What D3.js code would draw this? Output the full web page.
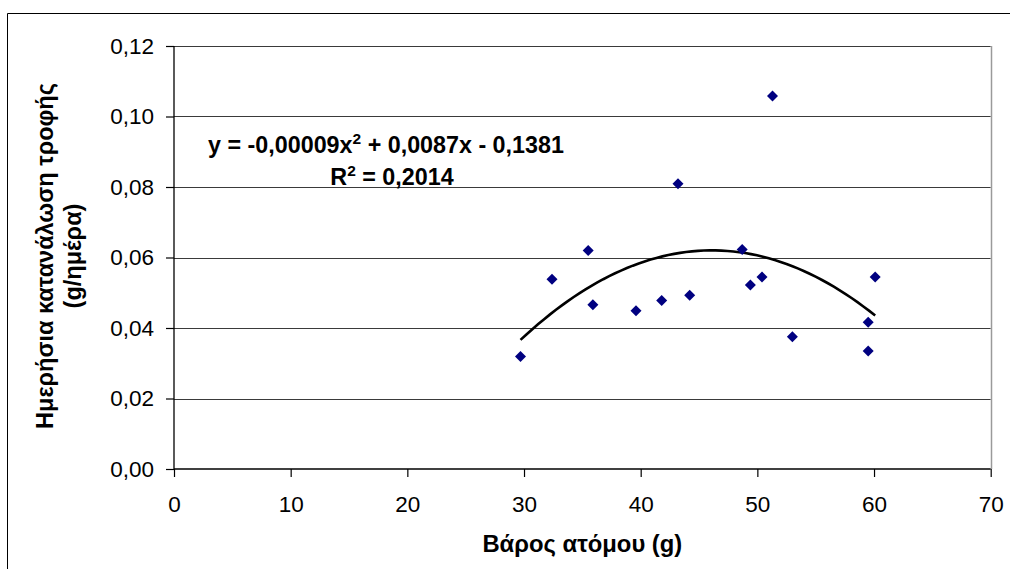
<!DOCTYPE html>
<html>
<head>
<meta charset="utf-8">
<script src="https://cdn.jsdelivr.net/npm/d3@7"></script>
<style>
  html, body { margin: 0; padding: 0; background: #fff; }
  svg { display: block; font-family: "Liberation Sans", Arial, sans-serif; }
</style>
</head>
<body>
<svg id="chart" width="1010" height="569"></svg>
<script>
// Body weight (g) of each individual
const weights = [29.7, 32.4, 35.5, 35.9, 39.6, 41.8, 43.2, 44.2, 48.7, 49.4, 50.4, 51.3, 53.0, 59.5, 59.5, 60.1];
// Daily food consumption (g/day)
const consumption = [0.0319, 0.0538, 0.0620, 0.0466, 0.0449, 0.0478, 0.0809, 0.0493, 0.0623, 0.0522, 0.0545, 0.1058, 0.0375, 0.0416, 0.0335, 0.0545];

const xTicks = [0, 10, 20, 30, 40, 50, 60, 70];
const yTicks = [0, 0.02, 0.04, 0.06, 0.08, 0.10, 0.12];

const xTitle = "Βάρος ατόμου (g)";
const yTitleLines = ["Ημερήσια κατανάλωση τροφής", "(g/ημέρα)"];
const equationText = { main: "y = -0,00009x", exp: "2", rest: " + 0,0087x - 0,1381" };
const r2Text = { main: "R", exp: "2", rest: " = 0,2014" };

const svg = d3.select("#chart");
const plot = { left: 174, top: 46, right: 990.7, bottom: 469 };

const x = d3.scaleLinear().domain([0, 70]).range([plot.left, plot.right]);
const y = d3.scaleLinear().domain([0, 0.12]).range([plot.bottom, plot.top]);

const fmt = d => d3.format(".2f")(d).replace(".", ",");

// Outer chart frame (top and left edges)
svg.append("path")
  .attr("d", "M7.5,569 V13.5 H1010")
  .attr("fill", "none").attr("stroke", "#000").attr("stroke-width", 1);

// Horizontal gridlines
svg.append("g").selectAll("line").data(yTicks.filter(t => t > 0)).join("line")
  .attr("x1", plot.left).attr("x2", plot.right)
  .attr("y1", d => Math.round(y(d)) + 0.5).attr("y2", d => Math.round(y(d)) + 0.5)
  .attr("stroke", "#3a3a3a").attr("stroke-width", 1);

// Plot area border on the right
svg.append("line")
  .attr("x1", Math.round(plot.right) + 0.5).attr("x2", Math.round(plot.right) + 0.5)
  .attr("y1", plot.top).attr("y2", plot.bottom)
  .attr("stroke", "#9a9a9a").attr("stroke-width", 1.5);

// Y axis
const yAxis = svg.append("g")
  .attr("transform", `translate(${plot.left},0)`)
  .call(d3.axisLeft(y).tickValues(yTicks).tickFormat(fmt).tickSize(8).tickPadding(12));
// X axis
const xAxis = svg.append("g")
  .attr("transform", `translate(0,${plot.bottom})`)
  .call(d3.axisBottom(x).tickValues(xTicks).tickFormat(d3.format("d")).tickSize(8).tickPadding(19));

[yAxis, xAxis].forEach(ax => {
  ax.select(".domain").attr("stroke", "#000").attr("stroke-width", 1.3);
  ax.selectAll(".tick line").attr("stroke", "#000").attr("stroke-width", 1.2);
  ax.selectAll(".tick text")
    .attr("fill", "#000")
    .style("font-family", '"Liberation Sans", Arial, sans-serif')
    .style("font-size", "22.5px");
});
yAxis.select(".domain").attr("d", `M0,${plot.bottom}V${plot.top}`);
xAxis.select(".domain").attr("d", `M${plot.left},0H${plot.right}`);

// Quadratic least-squares trend of consumption against weight
function quadFit(xs, ys) {
  let s = [0, 0, 0, 0, 0], t = [0, 0, 0];
  xs.forEach((xv, i) => {
    let p = 1;
    for (let k = 0; k < 5; k++) { s[k] += p; if (k < 3) t[k] += p * ys[i]; p *= xv; }
  });
  const A = [[s[0], s[1], s[2], t[0]], [s[1], s[2], s[3], t[1]], [s[2], s[3], s[4], t[2]]];
  for (let i = 0; i < 3; i++) {
    for (let j = i + 1; j < 3; j++) {
      const f = A[j][i] / A[i][i];
      for (let k = i; k < 4; k++) A[j][k] -= f * A[i][k];
    }
  }
  const c = [0, 0, 0];
  for (let i = 2; i >= 0; i--) {
    let v = A[i][3];
    for (let k = i + 1; k < 3; k++) v -= A[i][k] * c[k];
    c[i] = v / A[i][i];
  }
  return c; // [c0, c1, c2]
}
const coef = quadFit(weights, consumption);
const [xMin, xMax] = d3.extent(weights);
const curve = d3.range(0, 61).map(i => {
  const xv = xMin + (xMax - xMin) * i / 60;
  return [xv, coef[0] + coef[1] * xv + coef[2] * xv * xv];
});
svg.append("path")
  .datum(curve)
  .attr("d", d3.line().x(d => x(d[0])).y(d => y(d[1])))
  .attr("fill", "none").attr("stroke", "#000").attr("stroke-width", 2.6);

// Data points as navy diamonds
svg.append("g").selectAll("path").data(weights.map((w, i) => [w, consumption[i]])).join("path")
  .attr("transform", d => `translate(${x(d[0])},${y(d[1])})`)
  .attr("d", "M0,-5.5L5.5,0L0,5.5L-5.5,0Z")
  .attr("fill", "#000080");

// Trend equation and R²
function supText(parent, cx, cyBase, parts) {
  const t = parent.append("text")
    .attr("x", cx).attr("y", cyBase)
    .attr("text-anchor", "middle")
    .style("font-size", "23.3px").style("font-weight", "bold").attr("fill", "#000");
  t.append("tspan").text(parts.main);
  t.append("tspan").attr("dy", -9).style("font-size", "15.5px").text(parts.exp);
  t.append("tspan").attr("dy", 9).text(parts.rest);
  return t;
}
supText(svg, 386, 153, equationText);
supText(svg, 392, 185, r2Text);

// Axis titles
svg.append("text")
  .attr("x", (plot.left + plot.right) / 2).attr("y", 552)
  .attr("text-anchor", "middle")
  .style("font-size", "23.8px").style("font-weight", "bold")
  .text(xTitle);

const yTitle = svg.append("text")
  .attr("transform", "translate(53,256) rotate(-90)")
  .attr("text-anchor", "middle")
  .style("font-size", "23.5px").style("font-weight", "bold");
yTitle.append("tspan").attr("x", 0).attr("y", 0).text(yTitleLines[0]);
yTitle.append("tspan").attr("x", 0).attr("y", 28).text(yTitleLines[1]);
</script>
</body>
</html>
